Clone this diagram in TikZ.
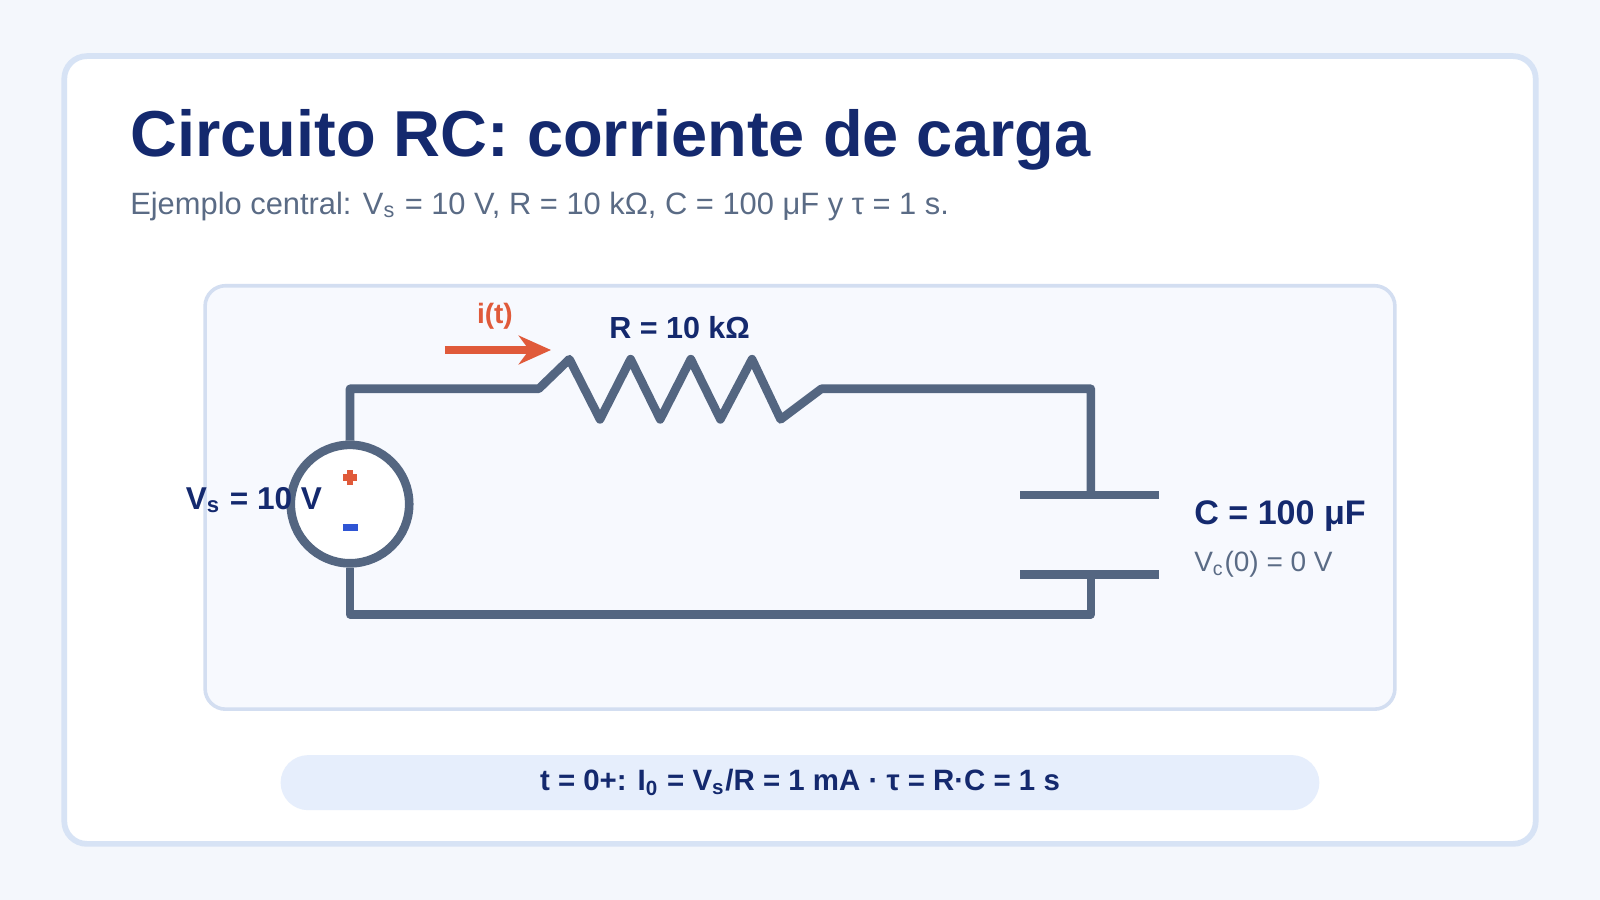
\documentclass[tikz,border=0pt]{standalone}
\usepackage{fontspec}
\setmainfont{Liberation Sans}
\usetikzlibrary{arrows.meta}
\definecolor{wire}{HTML}{546681}
\definecolor{navy}{HTML}{14296E}
\definecolor{slate}{HTML}{5A6B85}
\definecolor{accent}{HTML}{E05A3A}
\definecolor{minus}{HTML}{2F55D4}
\begin{document}
\begin{tikzpicture}[x=0.01cm, y=-0.01cm,
    wire/.style={draw=wire, line width=2.4pt, line join=round},
    lbl/.style={font=\bfseries\fontsize{8.5}{10}\selectfont, text=navy},
    note/.style={font=\fontsize{7.8}{9}\selectfont, text=slate}
]
    % background and panels
    \fill[fill={rgb,255:red,244;green,247;blue,252}] (0,0) rectangle (1568,882);
    \useasboundingbox (0,0) rectangle (1568,882);
    \draw[fill=white, draw={rgb,255:red,215;green,227;blue,245}, line width=1.6pt, rounded corners=6.3pt] (63,55) rectangle (1505,827);
    \draw[fill={rgb,255:red,247;green,249;blue,254}, draw={rgb,255:red,211;green,222;blue,241}, line width=1pt, rounded corners=5.7pt] (201,280) rectangle (1367,695);
    \fill[fill={rgb,255:red,230;green,238;blue,252}, rounded corners=7.7pt] (275,740) rectangle (1293,794);

    % title
    \node[anchor=base west, font=\bfseries\fontsize{18.1}{22}\selectfont, text=navy, inner sep=0] (title) at (127,153) {Circuito RC: corriente de carga};
    \node[anchor=base west, font=\fontsize{8.6}{10}\selectfont, text=slate, inner sep=0] (sub) at (127,210) {Ejemplo central: V\textsubscript{s} = 10 V, R = 10 kΩ, C = 100 μF y τ = 1 s.};

    % circuit points
    \coordinate (tl) at (343,381);
    \coordinate (ra) at (528,381);
    \coordinate (rb) at (805,381);
    \coordinate (tr) at (1069,381);
    \coordinate (ct) at (1069,485);
    \coordinate (cb) at (1069,563);
    \coordinate (br) at (1069,602);
    \coordinate (bl) at (343,602);
    \node[circle, draw=wire, line width=2.4pt, fill=white, inner sep=0, minimum size=1.16cm] (src) at (343,494) {};

    % wires
    \draw[wire] (src.north) -- (tl) -- (ra)
        -- ++(30,-29) -- ++(30,59) -- ++(30,-59) -- ++(29,59) -- ++(30,-59) -- ++(29,59) -- ++(31,-59) -- ++(28,59) -- (rb)
        -- (tr) -- (ct);
    \draw[wire] (cb) -- (br) -- (bl) -- (src.south);
    \draw[wire] (1000,485) -- (1136,485);
    \draw[wire] (1000,563) -- (1136,563);

    % source signs
    \draw[accent, line width=1.8pt] (336,468) -- (350,468) (343,461) -- (343,475);
    \draw[minus, line width=1.8pt] (336,517) -- (351,517);

    % current arrow
    \coordinate (ia) at (436,343);
    \coordinate (ib) at (540,343);
    \draw[accent, line width=2.4pt, -{Stealth[length=9pt,width=8pt]}] (ia) -- (ib);
    \node[text=accent, font=\bfseries\fontsize{7.8}{9}\selectfont] (cur) at (485,310) {i(t)};

    % labels
    \node[lbl] (rlbl) at (666,321) {R = 10 kΩ};
    \node[lbl, anchor=east, font=\bfseries\fontsize{8.8}{10}\selectfont] (vlbl) at (328,490) {V\textsubscript{s} = 10 V};
    \node[lbl, anchor=west, font=\bfseries\fontsize{9.5}{11}\selectfont] (clbl) at (1158,506) {C = 100 μF};
    \node[note, anchor=west] (vc0) at (1158,553) {V\textsubscript{c}(0) = 0 V};
    \node[lbl, font=\bfseries\fontsize{8.2}{10}\selectfont] (form) at (784,767) {t = 0+: I\textsubscript{0} = V\textsubscript{s}/R = 1 mA · τ = R·C = 1 s};
\end{tikzpicture}
\end{document}
